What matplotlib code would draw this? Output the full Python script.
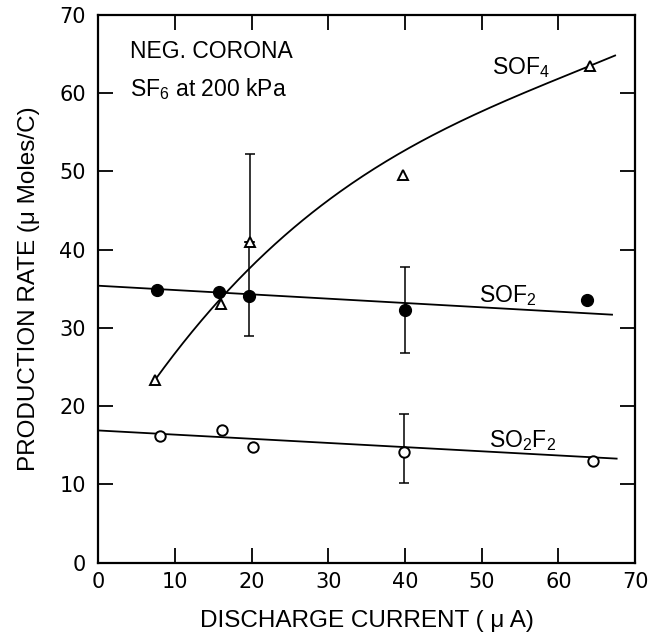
import matplotlib.pyplot as plt
import numpy as np

plt.rcParams["font.family"] = ["Liberation Sans", "DejaVu Sans"]
plt.rcParams["mathtext.fontset"] = "custom"
plt.rcParams["mathtext.rm"] = "Liberation Sans"
plt.rcParams["mathtext.it"] = "Liberation Sans"

# measured points
sof4_x = [7.4, 16.0, 19.8, 39.8, 64.1]
sof4_y = [23.4, 33.1, 41.0, 49.5, 63.5]
sof2_x = [7.6, 15.7, 19.7, 40.0, 63.7]
sof2_y = [34.9, 34.6, 34.1, 32.3, 33.6]
so2f2_x = [8.0, 16.2, 20.2, 39.9, 64.5]
so2f2_y = [16.2, 16.9, 14.8, 14.15, 13.0]

# error bars (lower, upper) for selected points
sof4_err_x = [19.8]
sof4_err_y = [41.0]
sof4_err = [[0.0], [11.2]]
sof2_err_x = [19.7, 40.0]
sof2_err_y = [34.1, 32.3]
sof2_err = [[5.1, 5.5], [6.9, 5.5]]
so2f2_err_x = [39.9]
so2f2_err_y = [14.15]
so2f2_err = [[3.95], [4.85]]

# drawn trend curves
sof4_curve_x = [7.4, 10.0, 16.0, 20.0, 30.0, 40.0, 52.0, 64.0, 67.4]
sof4_curve_y = [23.4, 26.4, 34.3, 38.0, 46.0, 52.6, 58.7, 63.7, 64.6]
sof2_fit_x = [0.0, 67.0]
sof2_fit_y = [35.4, 31.7]
so2f2_fit_x = [0.0, 67.6]
so2f2_fit_y = [16.9, 13.3]

fig = plt.figure(figsize=(6.53, 6.34), dpi=100)
ax = fig.add_axes([0.1505, 0.1125, 0.822, 0.8638])

coef = np.polyfit(sof4_curve_x, sof4_curve_y, 3)
xs = np.linspace(sof4_curve_x[0], sof4_curve_x[-1], 200)
ax.plot(xs, np.polyval(coef, xs), color="black", lw=1.3, zorder=2)
ax.plot(sof2_fit_x, sof2_fit_y, color="black", lw=1.3, zorder=2)
ax.plot(so2f2_fit_x, so2f2_fit_y, color="black", lw=1.3, zorder=2)

ekw = dict(fmt="none", ecolor="black", elinewidth=1.1, capsize=3.6, capthick=1.1, zorder=3)
ax.errorbar(sof4_err_x, sof4_err_y, yerr=sof4_err, **ekw)
ax.errorbar(sof2_err_x, sof2_err_y, yerr=sof2_err, **ekw)
ax.errorbar(so2f2_err_x, so2f2_err_y, yerr=so2f2_err, **ekw)

ax.plot(sof4_x, sof4_y, ls="none", marker="^", ms=7.5, mfc="white", mec="black", mew=1.4, zorder=4)
ax.plot(sof2_x, sof2_y, ls="none", marker="o", ms=8.5, mfc="black", mec="black", zorder=4)
ax.plot(so2f2_x, so2f2_y, ls="none", marker="o", ms=7.5, mfc="white", mec="black", mew=1.4, zorder=4)

ax.set_xlim(0, 70)
ax.set_ylim(0, 70)
ax.set_xticks(range(0, 71, 10))
ax.set_yticks(range(0, 71, 10))
ax.tick_params(direction="in", length=11, width=1.3, top=True, right=True)
ax.tick_params(axis="x", pad=7)
ax.tick_params(axis="y", pad=9)
for lab in ax.get_xticklabels() + ax.get_yticklabels():
    lab.set_fontfamily("DejaVu Sans")
    lab.set_fontsize(15)
for s in ax.spines.values():
    s.set_linewidth(1.6)

ax.set_xlabel("DISCHARGE CURRENT ( \u03bc A)", fontsize=17.5, labelpad=13)
ax.set_ylabel("PRODUCTION RATE (\u03bc Moles/C)", fontsize=17.5, labelpad=14)

ax.text(4.15, 64.5, "NEG. CORONA", fontsize=16.5)
ax.text(4.15, 59.7, r"SF$_\mathregular{6}$ at 200 kPa", fontsize=16.5)
ax.text(51.3, 62.5, r"SOF$_\mathregular{4}$", fontsize=16.5)
ax.text(49.6, 33.35, r"SOF$_\mathregular{2}$", fontsize=16.5)
ax.text(50.9, 14.8, r"SO$_\mathregular{2}$F$_\mathregular{2}$", fontsize=16.5)

fig.savefig("out.png", dpi=100)
